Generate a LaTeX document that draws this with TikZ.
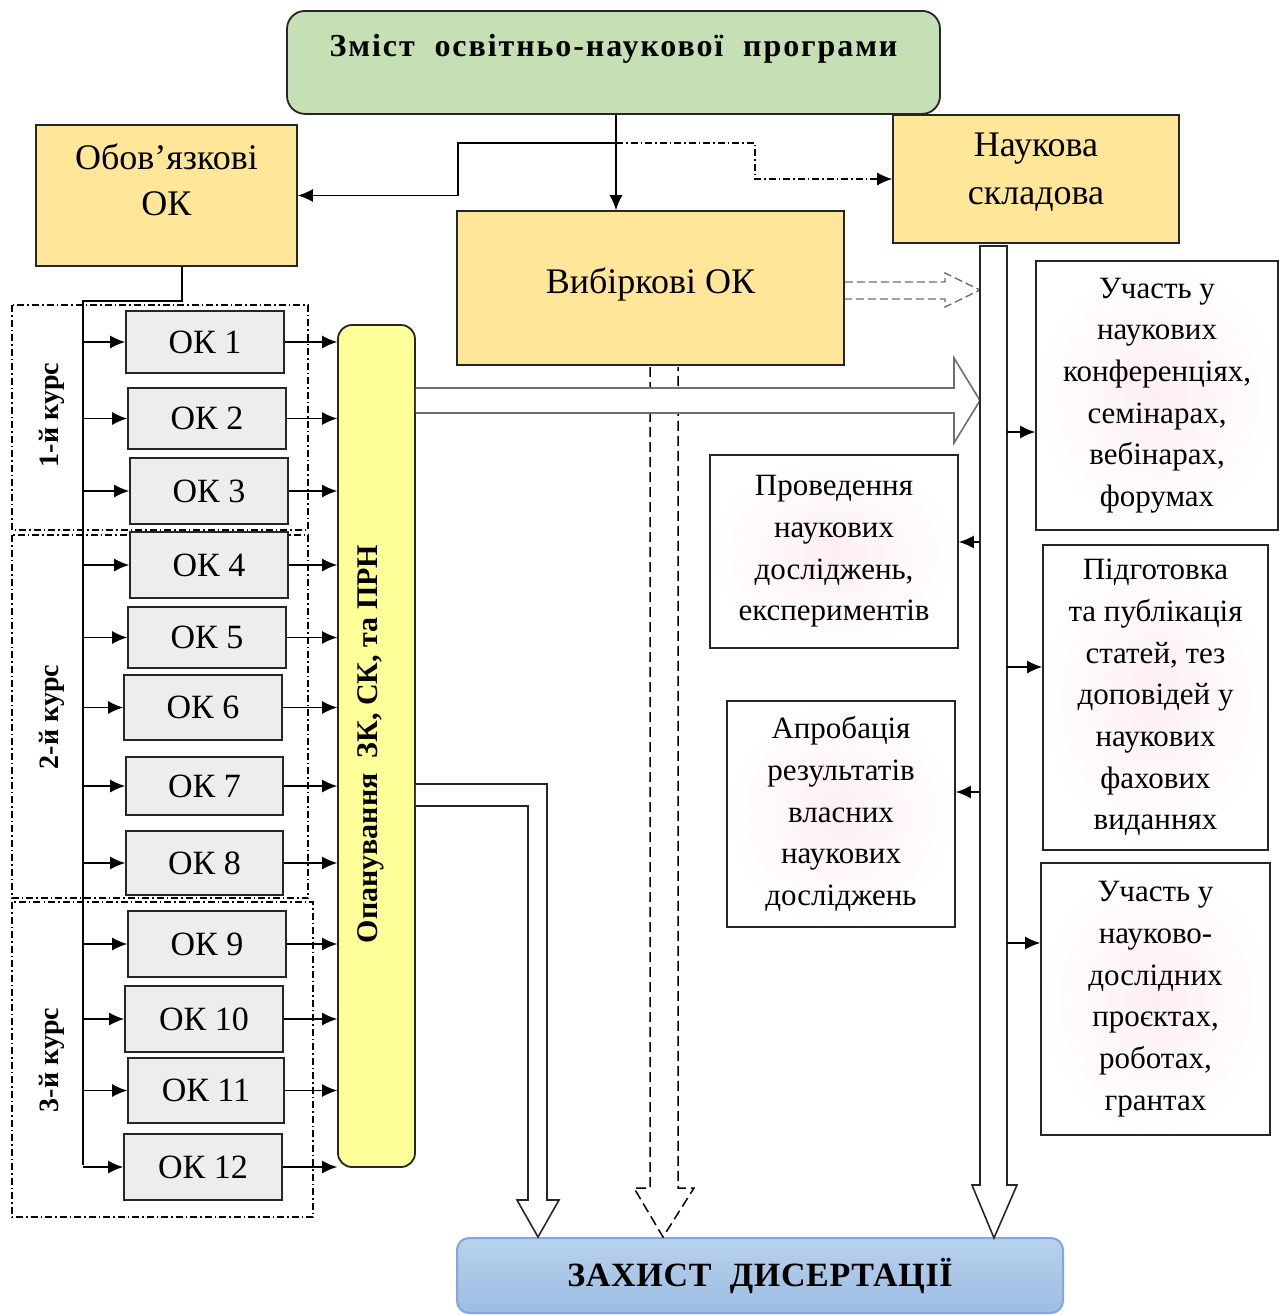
\documentclass[tikz,border=0pt]{standalone}
\usepackage{fontspec}
\setmainfont{Liberation Serif}
\usetikzlibrary{arrows.meta,calc}
\definecolor{gold}{HTML}{FFE699}
\definecolor{grn}{HTML}{C5E0B4}
\definecolor{okgray}{HTML}{EDEDED}
\definecolor{ylw}{HTML}{FFFF99}
\definecolor{bord}{HTML}{262626}
\definecolor{blueA}{HTML}{B9D1EC}
\definecolor{blueB}{HTML}{9CBDE3}
\definecolor{blueBorder}{HTML}{7FA9DA}
\definecolor{pinkc}{HTML}{FDEEF3}
\definecolor{hollowgray}{HTML}{6E6E6E}
\begin{document}
\begin{tikzpicture}[x=1pt,y=-1pt,
  box/.style={draw=bord, line width=1.8pt, align=center, inner sep=0pt},
  goldbox/.style={box, fill=gold, font=\fontsize{36}{47}\selectfont},
  okbox/.style={box, fill=okgray, font=\fontsize{34}{40}\selectfont},
  actbox/.style={box, shading=radial, inner color=pinkc, outer color=white, font=\fontsize{31}{41.7}\selectfont},
  courselabel/.style={rotate=90, font=\bfseries\fontsize{28}{32}\selectfont, inner sep=0pt},
  arr/.style={line width=1.3pt, draw=black, -{Latex[length=15pt,width=13pt]}},
  conn/.style={line width=1.3pt, draw=black},
  dashdotline/.style={line width=1.1pt, dash pattern=on 7pt off 3pt on 1.5pt off 3pt},
  hollow/.style={line width=1.6pt, fill=white},
]
\useasboundingbox (0,0) rectangle (1285,1315);

% course groups
\draw[dashdotline] (12,305) rectangle (308,530);
\draw[dashdotline] (12,535) rectangle (308,898);
\draw[dashdotline] (12,902) rectangle (313,1217);
\node[courselabel] (c1) at (52,415) {1-й курс};
\node[courselabel] (c2) at (52,717) {2-й курс};
\node[courselabel] (c3) at (52,1060) {3-й курс};

% top title
\node[box, fill=grn, rounded corners=18pt, anchor=north, minimum width=653pt,
      text height=46pt, text depth=57pt, font=\bfseries\fontsize{32}{36}\selectfont\addfontfeature{LetterSpace=6}]
      (title) at (613.5,10) {Зміст\ \ освітньо-наукової\ \ програми};

% gold boxes
\node[goldbox, minimum width=261pt, minimum height=141pt] (obov) at (166.5,195.5) {};
\node[font=\fontsize{36}{46}\selectfont, align=center, inner sep=0pt] (obovt) at (166.5,180) {Обов’язкові\\ОК};
\node[goldbox, minimum width=286pt, minimum height=128pt] (nauk) at (1036,179) {};
\node[font=\fontsize{36}{48}\selectfont, align=center, inner sep=0pt] (naukt) at (1036,172) {Наукова\\складова};
\node[goldbox, minimum width=387pt, minimum height=154pt] (vib) at (650.5,288) {};
\node[font=\fontsize{36}{46}\selectfont, inner sep=0pt] (vibt) at (650.5,284) {Вибіркові ОК};

% OK boxes
\node[okbox, minimum width=158pt, minimum height=62pt] (ok1) at (205,342) {ОК 1};
\node[okbox, minimum width=158pt, minimum height=61pt] (ok2) at (207,418.5) {ОК 2};
\node[okbox, minimum width=158pt, minimum height=66pt] (ok3) at (209,491) {ОК 3};
\node[okbox, minimum width=158pt, minimum height=66pt] (ok4) at (209,565) {ОК 4};
\node[okbox, minimum width=158pt, minimum height=61pt] (ok5) at (207,637.5) {ОК 5};
\node[okbox, minimum width=158pt, minimum height=65pt] (ok6) at (203,707.5) {ОК 6};
\node[okbox, minimum width=157pt, minimum height=58pt] (ok7) at (204.5,786) {ОК 7};
\node[okbox, minimum width=157pt, minimum height=64pt] (ok8) at (204.5,863) {ОК 8};
\node[okbox, minimum width=158pt, minimum height=66pt] (ok9) at (207,944) {ОК 9};
\node[okbox, minimum width=158pt, minimum height=66pt] (ok10) at (204,1019) {ОК 10};
\node[okbox, minimum width=156pt, minimum height=65pt] (ok11) at (206,1090.5) {ОК 11};
\node[okbox, minimum width=158pt, minimum height=66pt] (ok12) at (203,1167) {ОК 12};

% yellow bar
\node[box, fill=ylw, rounded corners=14pt, minimum width=77pt, minimum height=842pt] (bar) at (376.5,746) {};
\node[rotate=90, font=\bfseries\fontsize{30}{34}\selectfont, inner sep=0pt] (bart) at (371,744) {Опанування\ \ ЗК,\ СК,\ та\ ПРН};

% activity boxes
\node[actbox, minimum width=242pt, minimum height=269pt] (uch1) at (1157,395.5) {Участь у\\наукових\\конференціях,\\семінарах,\\вебінарах,\\форумах};
\node[actbox, minimum width=248pt, minimum height=193pt] (prov) at (834,551.5) {Проведення\\наукових\\досліджень,\\експериментів};
\node[actbox, minimum width=228pt, minimum height=226pt] (aprob) at (841,814) {Апробація\\результатів\\власних\\наукових\\досліджень};
\node[actbox, minimum width=225pt, minimum height=305pt] (pidg) at (1155.5,697.5) {Підготовка\\та публікація\\статей, тез\\доповідей у\\наукових\\фахових\\виданнях};
\node[actbox, minimum width=229pt, minimum height=272pt] (uch2) at (1155.5,999) {Участь у\\науково-\\дослідних\\проєктах,\\роботах,\\грантах};

% defence box
\node[draw=blueBorder, line width=2pt, rounded corners=12pt, top color=blueA, bottom color=blueB,
      minimum width=606pt, minimum height=75pt, font=\bfseries\fontsize{34}{40}\selectfont\addfontfeature{LetterSpace=2}]
      (zah) at (760,1275.5) {ЗАХИСТ\ \ ДИСЕРТАЦІЇ};

% top connectors
\coordinate (tx) at (616,0);
\coordinate (j) at (616,143);
\draw[arr] (title.south -| tx) -- (vib.north -| tx);
\draw[arr] (j) -| ($(obov.east)+(160,0)$) -- (obov.east);
\draw[dashdotline, -{Latex[length=15pt,width=13pt]}] (j) -- (755,143) |- (nauk.west);

% trunk
\coordinate (trunk) at (83,0);
\draw[conn] (obov.south -| 182,0) -- (182,301) -- (83,301) -- (83,1165);
\foreach \i in {1,...,12} {
  \draw[arr] (ok\i.west -| trunk) -- (ok\i.west);
  \draw[arr] (ok\i.east) -- (ok\i.east -| bar.west);
}

% dashed hollow arrow down (behind)
\draw[line width=1.5pt, dash pattern=on 10pt off 5pt, fill=white]
  (650,367) -- (650,1188) -- (634,1188) -- (663,1237) -- (694,1188) -- (678,1188) -- (678,367);

% hollow arrow from bar to science column
\draw[hollow, draw=hollowgray] (bar.east |- 0,388) -- (954,388) -- (954,358) -- (980,400.5) -- (954,443) -- (954,413) -- (bar.east |- 0,413);

% dashed hollow arrow from elective
\draw[line width=1.4pt, draw=hollowgray, dash pattern=on 8pt off 4pt]
  (vib.east |- 0,282) -- (945,282) -- (945,273) -- (980,290) -- (945,307) -- (945,299) -- (vib.east |- 0,299);

% elbow hollow arrow from bar to defence
\draw[hollow, draw=bord] (bar.east |- 0,784) -- (547,784) -- (547,1200) -- (559,1200) -- (538,1237) -- (517,1200) -- (528,1200) -- (528,806) -- (bar.east |- 0,806);

% science column
\draw[hollow, draw=bord] (980,246) -- (980,1185) -- (972,1185) -- (994,1238) -- (1017,1185) -- (1007,1185) -- (1007,246) -- cycle;

% science branch arrows
\coordinate (r1) at (1007,432);
\coordinate (r2) at (1007,667);
\coordinate (r3) at (1007,943);
\coordinate (l1) at (980,542);
\coordinate (l2) at (980,792);
\draw[arr] (r1) -- (r1 -| uch1.west);
\draw[arr] (r2) -- (r2 -| pidg.west);
\draw[arr] (r3) -- (r3 -| uch2.west);
\draw[arr] (l1) -- (l1 -| prov.east);
\draw[arr] (l2) -- (l2 -| aprob.east);
\end{tikzpicture}
\end{document}
